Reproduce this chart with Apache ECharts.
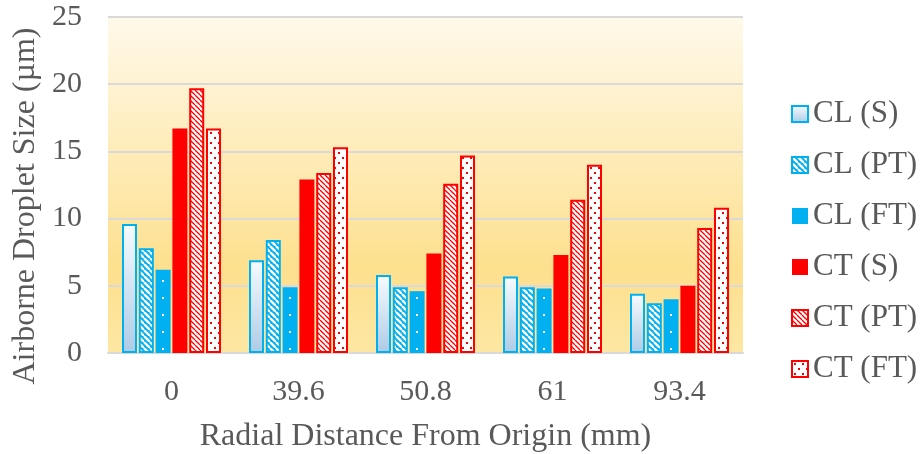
<!DOCTYPE html>
<html><head><meta charset="utf-8">
<script src="https://cdn.jsdelivr.net/npm/echarts@6/dist/echarts.min.js"></script>
<style>html,body{margin:0;padding:0;background:#fff}#c{width:921px;height:454px}</style>
</head><body><div id="c"></div>
<script>
const categories = ['0', '39.6', '50.8', '61', '93.4'];
const seriesNames = ['CL (S)', 'CL (PT)', 'CL (FT)', 'CT (S)', 'CT (PT)', 'CT (FT)'];
const clS  = [9.6, 6.9, 5.8, 5.7, 4.4];
const clPT = [7.8, 8.4, 4.9, 4.9, 3.7];
const clFT = [6.2, 4.9, 4.6, 4.8, 4.0];
const ctS  = [16.7, 12.9, 7.4, 7.3, 5.0];
const ctPT = [19.7, 13.4, 12.6, 11.4, 9.3];
const ctFT = [16.7, 15.3, 14.7, 14.0, 10.8];
const yTicks = [0, 5, 10, 15, 20, 25];
const seriesValues = [clS, clPT, clFT, ctS, ctPT, ctFT];

const BLUE = '#00b0f0', RED = '#ff0000';
function tile(w, h, draw) {
  const c = document.createElement('canvas'); c.width = w; c.height = h;
  const ctx = c.getContext('2d'); draw(ctx, w, h); return c;
}
function stripes(bg, fg, s, lw) {
  return tile(s, s, (ctx) => {
    ctx.fillStyle = bg; ctx.fillRect(0, 0, s, s);
    ctx.strokeStyle = fg; ctx.lineWidth = lw;
    for (const k of [-s, 0, s]) { ctx.beginPath(); ctx.moveTo(k, 0); ctx.lineTo(k + s, s); ctx.stroke(); }
  });
}
function dots(bg, fg, w, h, pts, d) {
  return tile(w, h, (ctx) => {
    ctx.fillStyle = bg; ctx.fillRect(0, 0, w, h);
    ctx.fillStyle = fg; pts.forEach(p => ctx.fillRect(p[0], p[1], d, d));
  });
}
const styles = [
  { color: new echarts.graphic.LinearGradient(0, 0, 0, 1, [{offset: 0, color: '#f7fbfe'}, {offset: 1, color: '#adcbe6'}]), borderColor: BLUE, borderWidth: 2 },
  { color: { image: stripes(BLUE, '#ffffff', 6, 2.4), repeat: 'repeat' }, borderColor: BLUE, borderWidth: 2 },
  { color: { image: dots(BLUE, '#ffffff', 127, 17, [[35, 8]], 2), repeat: 'repeat' }, borderColor: BLUE, borderWidth: 0 },
  { color: RED, borderColor: RED, borderWidth: 0 },
  { color: { image: stripes('#ffffff', RED, 5, 1.3), repeat: 'repeat' }, borderColor: RED, borderWidth: 2 },
  { color: { image: dots('#ffffff', RED, 8, 10, [[2, 2], [6, 7]], 2), repeat: 'repeat' }, borderColor: RED, borderWidth: 2 }
];

const FONT = '"Liberation Serif", "Times New Roman", serif';
const TXT = '#595959';
const chart = echarts.init(document.getElementById('c'), null, { renderer: 'canvas' });
chart.setOption({
  animation: false,
  grid: {
    left: 108, right: 178, top: 17, bottom: 101, show: true, borderWidth: 0,
    containLabel: false, outerBoundsMode: 'none',
    backgroundColor: new echarts.graphic.LinearGradient(0, 0, 0, 1, [
      {offset: 0, color: '#fff9ea'}, {offset: 0.75, color: '#fde08e'}, {offset: 1, color: '#fde7a3'}
    ])
  },
  legend: {
    orient: 'vertical', left: 786, top: 93, itemGap: 19, itemWidth: 16, itemHeight: 16,
    icon: 'rect', data: seriesNames,
    textStyle: { fontFamily: FONT, fontSize: 31, color: TXT, lineHeight: 32 }
  },
  xAxis: {
    type: 'category', data: categories,
    name: 'Radial Distance From Origin (mm)', nameLocation: 'middle', nameGap: 68,
    nameTextStyle: { fontFamily: FONT, fontSize: 32, color: TXT },
    axisLine: { lineStyle: { color: '#d9d9d9', width: 2 } },
    axisTick: { show: false },
    axisLabel: { fontFamily: FONT, fontSize: 30, color: TXT, margin: 24 }
  },
  yAxis: {
    type: 'value', min: yTicks[0], max: yTicks[yTicks.length - 1], interval: 5,
    name: 'Airborne Droplet Size (µm)', nameLocation: 'middle', nameGap: 66,
    nameTextStyle: { fontFamily: FONT, fontSize: 32, color: TXT, padding: [0, 42, 0, 0] },
    axisLine: { show: false }, axisTick: { show: false },
    axisLabel: { fontFamily: FONT, fontSize: 30, color: TXT, margin: 26 },
    splitLine: { lineStyle: { color: '#d9d9d9', width: 2 } }
  },
  series: seriesNames.map((n, i) => ({
    name: n, type: 'bar', data: seriesValues[i], barWidth: 15, barGap: '12%',
    itemStyle: styles[i]
  }))
});
</script></body></html>
